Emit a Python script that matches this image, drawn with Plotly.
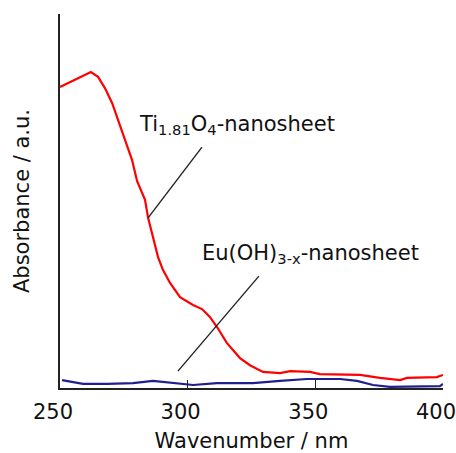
import plotly.graph_objects as go

# Absorption spectra (arbitrary units) of the two nanosheet suspensions
wavelength_ti = [250.0, 255.9, 262.1, 264.9, 267.6, 270.4, 272.7, 275.5, 278.2, 280.2,
                 283.3, 284.5, 286.4, 288.4, 290.3, 293.1, 297.0, 302.1, 305.6, 308.7,
                 311.5, 315.4, 320.5, 324.4, 329.5, 336.2, 340.1, 347.9, 351.8, 367.5,
                 375.3, 383.2, 385.9, 397.6, 400.0]
absorb_ti = [0.805, 0.824, 0.845, 0.832, 0.802, 0.762, 0.717, 0.663, 0.610, 0.553,
             0.503, 0.455, 0.404, 0.350, 0.316, 0.281, 0.243, 0.222, 0.211, 0.190,
             0.163, 0.120, 0.080, 0.061, 0.043, 0.040, 0.045, 0.043, 0.037, 0.035,
             0.027, 0.021, 0.027, 0.029, 0.035]

wavelength_eu = [250.8, 259.0, 268.4, 278.6, 286.4, 294.3, 302.1, 311.5, 325.6, 336.2,
                 346.7, 359.7, 366.3, 372.6, 379.2, 398.8, 400.0]
absorb_eu = [0.021, 0.011, 0.011, 0.013, 0.019, 0.013, 0.008, 0.013, 0.013, 0.019,
             0.024, 0.024, 0.019, 0.008, 0.003, 0.005, 0.011]

x_ticks = [250, 300, 350, 400]

FONT = "DejaVu Sans, Liberation Sans, Arial, sans-serif"

fig = go.Figure()
fig.add_trace(go.Scatter(x=wavelength_ti, y=absorb_ti, mode="lines",
                         line=dict(color="#ff0000", width=2.2), showlegend=False))
fig.add_trace(go.Scatter(x=wavelength_eu, y=absorb_eu, mode="lines",
                         line=dict(color="#1f1f8f", width=2.2), showlegend=False))

# Labels with leader lines
fig.add_annotation(x=280.2, y=0.703, text="Ti<sub>1.81</sub>O<sub>4</sub>-nanosheet",
                   showarrow=False, xanchor="left", yanchor="middle",
                   font=dict(family=FONT, size=21, color="#111111"))
fig.add_annotation(x=304.8, y=0.358, text="Eu(OH)<sub>3-x</sub>-nanosheet",
                   showarrow=False, xanchor="left", yanchor="middle",
                   font=dict(family=FONT, size=21, color="#111111"))
fig.add_shape(type="line", x0=305.6, y0=0.644, x1=284.5, y1=0.455,
              line=dict(color="#222222", width=1.4))
fig.add_shape(type="line", x0=327.9, y0=0.299, x1=296.2, y1=0.045,
              line=dict(color="#222222", width=1.4))

fig.update_layout(
    width=456, height=453,
    margin=dict(l=60, r=13, t=14, b=65),
    paper_bgcolor="white", plot_bgcolor="white",
    font=dict(family=FONT, size=21, color="#111111"),
)
fig.update_xaxes(
    range=[250, 400], tickvals=x_ticks, ticktext=[str(v) for v in x_ticks],
    ticks="inside", ticklen=8, tickcolor="#222222", tickwidth=1,
    showline=True, linecolor="#222222", linewidth=1.5, mirror=False,
    showgrid=False, zeroline=False, ticklabelshift=-7, ticklabelstandoff=4,
    ticklabeloverflow="allow", automargin=False,
    tickfont=dict(family=FONT, size=21),
    title=dict(text="Wavenumber / nm", font=dict(family=FONT, size=21), standoff=13),
)
fig.update_yaxes(
    range=[0, 1], showticklabels=False, ticks="", automargin=False,
    showline=True, linecolor="#222222", linewidth=1.5,
    showgrid=False, zeroline=False,
    title=dict(text="Absorbance / a.u.", font=dict(family=FONT, size=21), standoff=23),
)

fig.write_html("out.html")
